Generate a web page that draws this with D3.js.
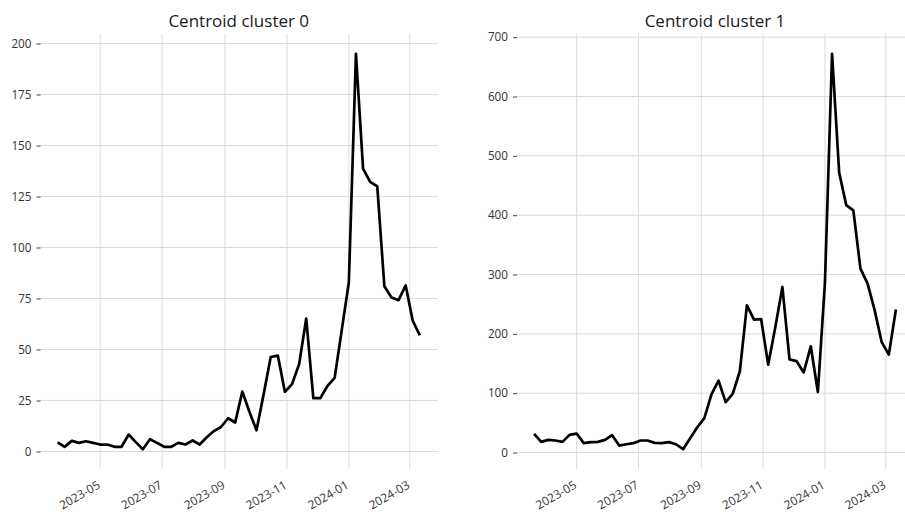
<!DOCTYPE html>
<html>
<head>
<meta charset="utf-8">
<script src="https://cdn.jsdelivr.net/npm/d3@7"></script>
<style>
  body { margin: 0; background: #fff; }
  svg text { font-family: "Open Sans", "Noto Sans", sans-serif; }
</style>
</head>
<body>
<svg id="chart" width="905" height="514"></svg>
<script>
// Weekly time index shared by both centroids
const weeks = [
  "2023-03-20","2023-03-27","2023-04-03","2023-04-10","2023-04-17","2023-04-24",
  "2023-05-01","2023-05-08","2023-05-15","2023-05-22","2023-05-29",
  "2023-06-05","2023-06-12","2023-06-19","2023-06-26",
  "2023-07-03","2023-07-10","2023-07-17","2023-07-24","2023-07-31",
  "2023-08-07","2023-08-14","2023-08-21","2023-08-28",
  "2023-09-04","2023-09-11","2023-09-18","2023-09-25",
  "2023-10-02","2023-10-09","2023-10-16","2023-10-23","2023-10-30",
  "2023-11-06","2023-11-13","2023-11-20","2023-11-27",
  "2023-12-04","2023-12-11","2023-12-18","2023-12-25",
  "2024-01-01","2024-01-08","2024-01-15","2024-01-22","2024-01-29",
  "2024-02-05","2024-02-12","2024-02-19","2024-02-26",
  "2024-03-04","2024-03-11"
];

// Centroid series
const cluster0 = [
  4.5, 2.3, 5.2, 4.2, 5.0, 4.2, 3.4, 3.4, 2.3, 2.3,
  8.3, 4.6, 1.1, 6.0, 4.2, 2.3, 2.3, 4.2, 3.4, 5.4,
  3.4, 7.0, 10.0, 12.0, 16.3, 14.2, 29.4, 19.5, 10.4, 28.0,
  46.3, 47.0, 29.2, 33.0, 42.8, 65.2, 26.2, 26.2, 32.2, 36.1,
  59.5, 83.0, 195.0, 138.7, 132.2, 130.0, 81.0, 75.5, 74.2, 81.4,
  64.0, 56.9
];
const cluster1 = [
  31.5, 18, 21.4, 20.3, 18, 29.8, 32, 15.8, 17.5, 18,
  21.4, 29.3, 11.8, 14, 15.8, 20.3, 20.3, 16.3, 15.8, 17.5,
  14, 5.6, 24, 42.7, 58, 98, 121, 85, 99, 137,
  248, 224, 225, 148, 211, 279, 157, 154, 135, 179,
  102, 287, 672, 472, 417, 408, 310, 285, 240, 186,
  165, 241
];

// Axis ticks and titles
const monthTicks = ["2023-05-01","2023-07-01","2023-09-01","2023-11-01","2024-01-01","2024-03-01"];
const yTicks0 = [0, 25, 50, 75, 100, 125, 150, 175, 200];
const yTicks1 = [0, 100, 200, 300, 400, 500, 600, 700];
const titles = ["Centroid cluster 0", "Centroid cluster 1"];

const svg = d3.select("#chart");
const parse = d3.timeParse("%Y-%m-%d");
const dates = weeks.map(parse);
const tickDates = monthTicks.map(parse);

const plotTop = 34, plotBottom = 469;
const panels = [
  { title: titles[0], values: cluster0, ticks: yTicks0, left: 39.5, width: 398.5 },
  { title: titles[1], values: cluster1, ticks: yTicks1, left: 516, width: 398 }
];

// 5% auto-margin on each side of the data range
function padded(ext) {
  const m = (ext[1] - ext[0]) * 0.05;
  return [ext[0] - m, ext[1] + m];
}
const xDomain = padded(d3.extent(dates, d => +d)).map(t => new Date(t));

panels.forEach(p => {
  const x = d3.scaleTime().domain(xDomain).range([p.left, p.left + p.width]);
  const y = d3.scaleLinear().domain(padded(d3.extent(p.values))).range([plotBottom, plotTop]);
  const g = svg.append("g");

  // grid
  g.append("g").selectAll("line").data(tickDates).join("line")
    .attr("x1", d => x(d)).attr("x2", d => x(d))
    .attr("y1", plotTop).attr("y2", plotBottom)
    .attr("stroke", "#dcdcdc").attr("stroke-width", 1);
  g.append("g").selectAll("line").data(p.ticks).join("line")
    .attr("x1", p.left).attr("x2", p.left + p.width)
    .attr("y1", d => y(d)).attr("y2", d => y(d))
    .attr("stroke", "#dcdcdc").attr("stroke-width", 1);

  // y axis
  const ya = g.append("g").attr("transform", `translate(${p.left + 1},0)`)
    .call(d3.axisLeft(y).tickValues(p.ticks).tickSize(4).tickPadding(5).tickFormat(d3.format("d")));
  ya.select(".domain").remove();
  ya.selectAll(".tick line").attr("stroke", "#444");
  ya.selectAll(".tick text").attr("fill", "#333").style("font-size", "11.7px");

  // x axis with slanted month labels
  const xa = g.append("g").attr("transform", `translate(0,${plotBottom})`)
    .call(d3.axisBottom(x).tickValues(tickDates).tickSize(0).tickFormat(d3.timeFormat("%Y-%m")));
  xa.select(".domain").remove();
  xa.selectAll(".tick text")
    .attr("y", 0).attr("dy", "0.72em")
    .attr("text-anchor", "end")
    .attr("transform", "translate(-4,11) rotate(-30)")
    .attr("fill", "#333").style("font-size", "11.9px");

  // series line
  const line = d3.line().x((d, i) => x(dates[i])).y(d => y(d));
  g.append("path").datum(p.values)
    .attr("d", line)
    .attr("fill", "none").attr("stroke", "#000")
    .attr("stroke-width", 2.7).attr("stroke-linejoin", "round");

  // title
  g.append("text")
    .attr("x", p.left + p.width / 2).attr("y", 26.5)
    .attr("text-anchor", "middle")
    .attr("fill", "#1a1a1a").style("font-size", "17px")
    .text(p.title);
});
</script>
</body>
</html>
